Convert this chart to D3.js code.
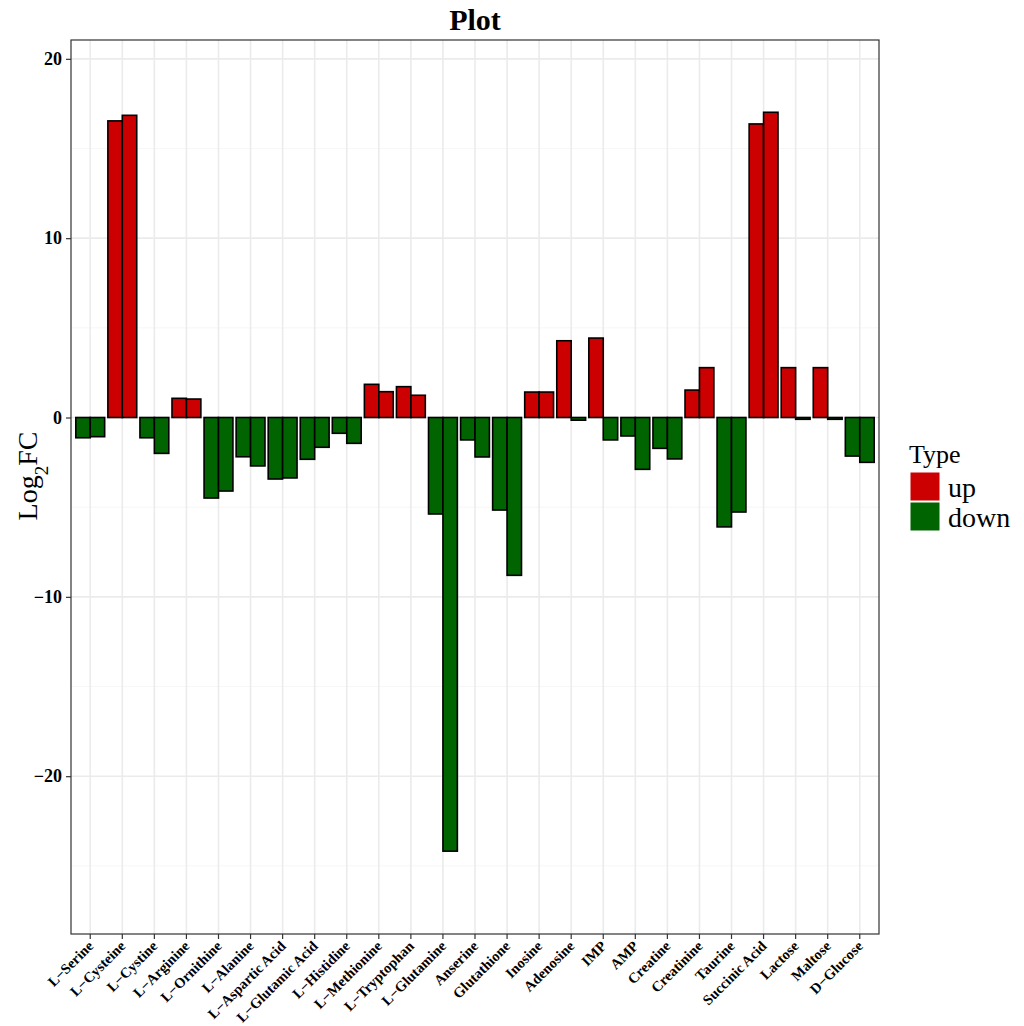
<!DOCTYPE html>
<html>
<head>
<meta charset="utf-8">
<script src="https://cdn.jsdelivr.net/npm/d3@7"></script>
<style>
  body { margin: 0; background: #fff; }
  text { font-family: "Liberation Serif", "Times New Roman", serif; }
</style>
</head>
<body>
<div id="chart"></div>
<script>
// metabolites on the x axis
const categories = ["L-Serine", "L-Cysteine", "L-Cystine", "L-Arginine", "L-Ornithine",
  "L-Alanine", "L-Aspartic Acid", "L-Glutamic Acid", "L-Histidine", "L-Methionine",
  "L-Tryptophan", "L-Glutamine", "Anserine", "Glutathione", "Inosine", "Adenosine",
  "IMP", "AMP", "Creatine", "Creatinine", "Taurine", "Succinic Acid", "Lactose",
  "Maltose", "D-Glucose"];
// two comparisons per metabolite (log2 fold change)
const groups = ["g1", "g2"];
const valuesG1 = [-1.13, 16.54, -1.13, 1.07, -4.49, -2.19, -3.43, -2.33, -0.88, 1.85,
  1.72, -5.38, -1.25, -5.16, 1.42, 4.28, 4.43, -1.03, -1.72, 1.53,
  -6.1, 16.37, 2.78, 2.78, -2.15];
const valuesG2 = [-1.07, 16.85, -2.0, 1.03, -4.1, -2.7, -3.37, -1.66, -1.44, 1.44,
  1.24, -24.18, -2.2, -8.8, 1.42, -0.15, -1.25, -2.89, -2.31, 2.78,
  -5.27, 17.02, -0.1, -0.1, -2.5];
const yTicks = [-20, -10, 0, 10, 20];
const yMinor = [-25, -15, -5, 5, 15];
const types = ["up", "down"];
const typeColors = ["#CC0000", "#006400"];

const data = [];
categories.forEach((c, i) => {
  data.push({ cat: c, group: "g1", value: valuesG1[i] });
  data.push({ cat: c, group: "g2", value: valuesG2[i] });
});
data.forEach((d) => (d.type = d.value >= 0 ? "up" : "down"));

const svgWidth = 1024, svgHeight = 1026;
const panel = { left: 71, right: 879, top: 40, bottom: 934 };

const svg = d3.select("#chart").append("svg")
  .attr("width", svgWidth)
  .attr("height", svgHeight);

// discrete x scale, ggplot-like 0.6 step expansion on each side
const step = (panel.right - panel.left) / (categories.length - 1 + 1.2);
const x = d3.scaleBand()
  .domain(categories)
  .range([panel.left + 0.1 * step, panel.right - 0.1 * step])
  .padding(0);
const center = (c) => x(c) + x.bandwidth() / 2;

// dodge: total width 0.9 of a slot
const xSub = d3.scaleBand().domain(groups).range([-0.45 * step, 0.45 * step]);

const y = d3.scaleLinear().domain([-28.8, 21.05]).range([panel.bottom, panel.top]);

const color = d3.scaleOrdinal().domain(types).range(typeColors);

// grid
const grid = svg.append("g");
grid.selectAll(".minor").data(yMinor).join("line")
  .attr("x1", panel.left).attr("x2", panel.right)
  .attr("y1", (d) => y(d)).attr("y2", (d) => y(d))
  .attr("stroke", "#F2F2F2").attr("stroke-width", 0.7);
grid.selectAll(".major").data(yTicks).join("line")
  .attr("x1", panel.left).attr("x2", panel.right)
  .attr("y1", (d) => y(d)).attr("y2", (d) => y(d))
  .attr("stroke", "#EBEBEB").attr("stroke-width", 1.6);
grid.selectAll(".vx").data(categories).join("line")
  .attr("x1", (d) => center(d)).attr("x2", (d) => center(d))
  .attr("y1", panel.top).attr("y2", panel.bottom)
  .attr("stroke", "#EBEBEB").attr("stroke-width", 1.6);

// bars
svg.append("g").selectAll("rect").data(data).join("rect")
  .attr("x", (d) => center(d.cat) + xSub(d.group))
  .attr("width", xSub.bandwidth())
  .attr("y", (d) => y(Math.max(0, d.value)))
  .attr("height", (d) => Math.abs(y(d.value) - y(0)))
  .attr("fill", (d) => color(d.type))
  .attr("stroke", "#000")
  .attr("stroke-width", 1.6);

// panel border
svg.append("rect")
  .attr("x", panel.left).attr("y", panel.top)
  .attr("width", panel.right - panel.left).attr("height", panel.bottom - panel.top)
  .attr("fill", "none").attr("stroke", "#333").attr("stroke-width", 1.2);

// y axis
const yAxis = svg.append("g")
  .attr("transform", `translate(${panel.left},0)`)
  .call(d3.axisLeft(y).tickValues(yTicks).tickSize(5).tickPadding(4)
    .tickFormat((d) => String(d).replace("-", "\u2212")));
yAxis.select(".domain").remove();
yAxis.selectAll(".tick line").attr("stroke", "#333").attr("stroke-width", 1.2);
yAxis.selectAll(".tick text")
  .attr("fill", "#000")
  .style("font-size", "18px")
  .style("font-weight", "bold");

// x axis, labels rotated 45 degrees, right end near the tick
const xAxis = svg.append("g")
  .attr("transform", `translate(0,${panel.bottom})`)
  .call(d3.axisBottom(x).tickSize(5).tickPadding(3)
    .tickFormat((d) => d.replace("-", "\u2212")));
xAxis.select(".domain").remove();
xAxis.selectAll(".tick line").attr("stroke", "#333").attr("stroke-width", 1.2);
xAxis.selectAll(".tick text")
  .attr("fill", "#000")
  .style("font-size", "14.5px")
  .style("font-weight", "bold")
  .attr("text-anchor", "end")
  .attr("x", 0)
  .attr("y", 0)
  .attr("dy", 0)
  .attr("transform", "translate(4,13) rotate(-45)");

// title
svg.append("text")
  .attr("x", (panel.left + panel.right) / 2)
  .attr("y", 30)
  .attr("text-anchor", "middle")
  .style("font-size", "30px")
  .style("font-weight", "bold")
  .text("Plot");

// y label
const yl = svg.append("text")
  .attr("transform", "translate(37,476) rotate(-90)")
  .attr("text-anchor", "middle")
  .style("font-size", "28px");
yl.append("tspan").text("Log");
yl.append("tspan").attr("baseline-shift", "sub").style("font-size", "19px").text("2");
yl.append("tspan").text("FC");

// legend
const legend = svg.append("g").attr("transform", "translate(909,463)");
legend.append("text")
  .attr("x", 0).attr("y", 0)
  .style("font-size", "26px")
  .text("Type");
types.forEach((t, i) => {
  legend.append("rect")
    .attr("x", 1).attr("y", 9 + i * 30)
    .attr("width", 30).attr("height", 29)
    .attr("fill", color(t))
    .attr("stroke", "#fff").attr("stroke-width", 1);
  legend.append("text")
    .attr("x", 39).attr("y", 34 + i * 30)
    .style("font-size", "28px")
    .text(t);
});
</script>
</body>
</html>
